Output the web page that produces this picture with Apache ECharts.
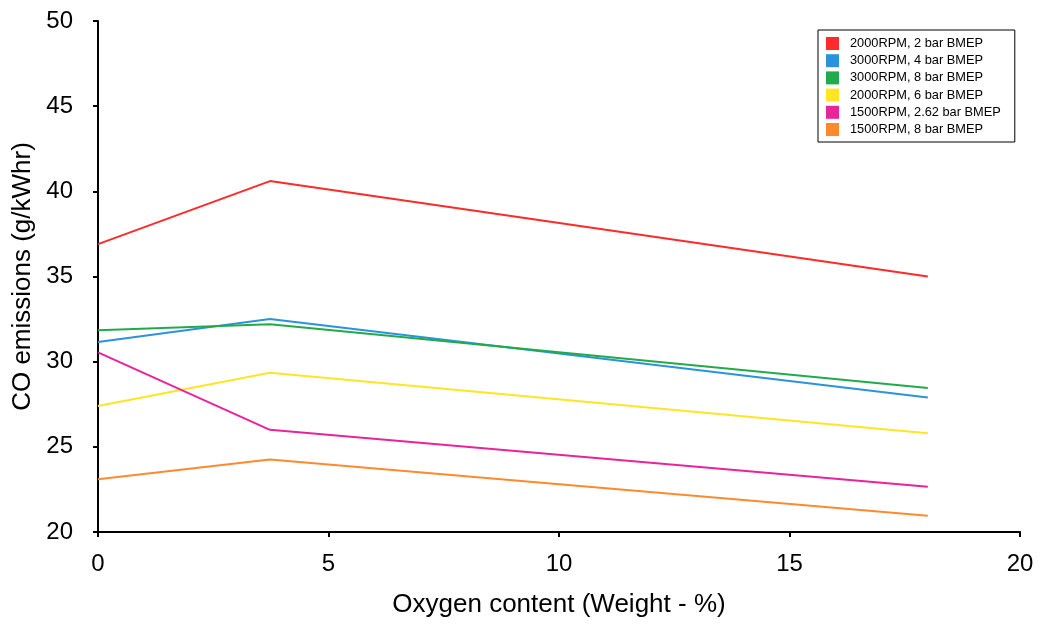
<!DOCTYPE html>
<html>
<head>
<meta charset="utf-8">
<script src="https://cdn.jsdelivr.net/npm/echarts@6/dist/echarts.min.js"></script>
<style>
  html, body { margin: 0; padding: 0; background: #fff; }
  #chart { width: 1042px; height: 628px; }
</style>
</head>
<body>
<div id="chart"></div>
<script>
// Oxygen content of the fuel blend (weight %)
const oxygen = [0, 3.73, 18];

const seriesNames = [
  '2000RPM, 2 bar BMEP',
  '3000RPM, 4 bar BMEP',
  '3000RPM, 8 bar BMEP',
  '2000RPM, 6 bar BMEP',
  '1500RPM, 2.62 bar BMEP',
  '1500RPM, 8 bar BMEP'
];

// CO emissions (g/kWhr) per operating point
const rpm2000bmep2   = [36.9, 40.6, 35.0];
const rpm3000bmep4   = [31.15, 32.5, 27.9];
const rpm3000bmep8   = [31.85, 32.2, 28.45];
const rpm2000bmep6   = [27.4, 29.35, 25.8];
const rpm1500bmep262 = [30.55, 26.0, 22.65];
const rpm1500bmep8   = [23.1, 24.25, 20.95];

const seriesValues = [rpm2000bmep2, rpm3000bmep4, rpm3000bmep8, rpm2000bmep6, rpm1500bmep262, rpm1500bmep8];
const colors = ['#ff2a2a', '#2b93dc', '#22aa4a', '#ffe525', '#e8239c', '#ff8a2e'];

const FONT = 'Liberation Sans, Arial, sans-serif';

const chart = echarts.init(document.getElementById('chart'));
chart.setOption({
  animation: false,
  backgroundColor: '#fff',
  textStyle: { fontFamily: FONT },
  grid: { left: 98, right: 22, top: 21, bottom: 96 },
  legend: {
    orient: 'vertical',
    left: 818,
    top: 30,
    padding: [7, 14, 6, 8],
    itemGap: 4.2,
    itemWidth: 13,
    itemHeight: 13,
    icon: 'rect',
    borderColor: '#000',
    borderWidth: 1,
    textStyle: { fontFamily: FONT, fontSize: 12.8, color: '#000', padding: [0, 0, 0, 6] },
    data: seriesNames
  },
  xAxis: {
    type: 'value',
    min: 0, max: 20, interval: 5,
    name: 'Oxygen content (Weight - %)',
    nameLocation: 'middle',
    nameGap: 60,
    nameTextStyle: { fontFamily: FONT, fontSize: 26, color: '#000' },
    axisLine: { show: true, lineStyle: { color: '#000', width: 2 } },
    axisTick: { show: true, length: 5, lineStyle: { color: '#000', width: 2 } },
    axisLabel: { fontFamily: FONT, fontSize: 24, color: '#000', margin: 20 },
    splitLine: { show: false }
  },
  yAxis: {
    type: 'value',
    min: 20, max: 50, interval: 5,
    name: 'CO emissions (g/kWhr)',
    nameLocation: 'middle',
    nameGap: 61,
    nameTextStyle: { fontFamily: FONT, fontSize: 26, color: '#000' },
    axisLine: { show: true, lineStyle: { color: '#000', width: 2 } },
    axisTick: { show: true, length: 5, lineStyle: { color: '#000', width: 2 } },
    axisLabel: { fontFamily: FONT, fontSize: 24, color: '#000', margin: 25 },
    splitLine: { show: false }
  },
  series: seriesNames.map((name, i) => ({
    name: name,
    type: 'line',
    symbol: 'none',
    color: colors[i],
    lineStyle: { width: 2, color: colors[i] },
    data: oxygen.map((x, j) => [x, seriesValues[i][j]])
  }))
});
</script>
</body>
</html>
